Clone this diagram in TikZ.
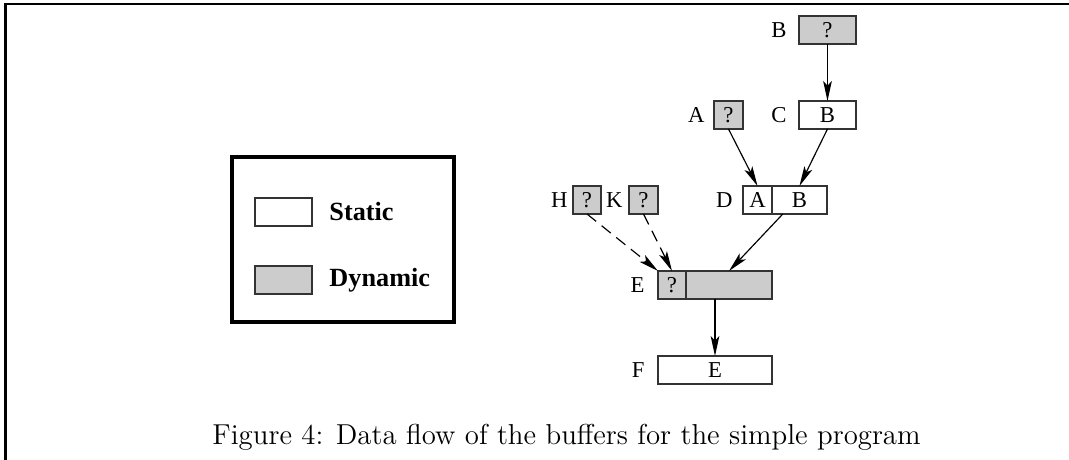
\documentclass[tikz,border=0pt]{standalone}
\usepackage{fontspec}
\newfontfamily\figfont{Liberation Serif}
\usetikzlibrary{arrows.meta}
\usetikzlibrary{calc,positioning}

\begin{document}
\begin{tikzpicture}[x=0.015cm, y=-0.015cm]
    \tikzstyle{buf} = [draw=black!80, line width=0.5pt, outer sep=0pt, inner sep=0pt, minimum height=\bufHeight, font=\figfont\fontsize{9.7}{11}\selectfont]
    \tikzstyle{static buf} = [buf, fill=white]
    \tikzstyle{dynamic buf} = [buf, fill=black!20]
    \tikzstyle{buf name} = [inner sep=0pt, font=\figfont\fontsize{9.7}{11}\selectfont]
    \tikzstyle{line} = [draw, line width=0.5pt, -{Stealth[length=0.3cm, width=0.13cm, inset=0.07cm]}]
    \tikzstyle{dashed line} = [line, dash pattern=on 5pt off 3pt]

    \def\px{0.015cm}
    \def\bufHeight{28*\px}

    \useasboundingbox (0,0) rectangle (1069,460);
    \draw[line width=1.1pt] (1069,4) -- (5.3,4) -- (5.3,460);

    % legend
    \node[draw, line width=1.3pt, minimum width=222*\px, minimum height=165*\px] (legend) at (343,239.5) {};
    \node[static buf, minimum width=57*\px] (keyS) at (283.5,212) {};
    \node[dynamic buf, minimum width=57*\px] (keyD) at (283.5,280) {};
    \node[anchor=west, inner sep=0pt, font=\figfont\bfseries\fontsize{11.2}{13}\selectfont] (Static) at (329,212) {Static};
    \node[anchor=west, inner sep=0pt, font=\figfont\bfseries\fontsize{11.2}{13}\selectfont] (Dynamic) at (329,280) {Dynamic};

    % buffers
    \node[dynamic buf, minimum width=57*\px] (bufB) at (827.5,30) {?};
    \node[dynamic buf, minimum width=29*\px] (bufA) at (728.5,115) {?};
    \node[static buf, minimum width=57*\px] (bufC) at (827.5,115) {B};
    \node[static buf, minimum width=29*\px] (bufDa) at (757.5,200) {A};
    \node[static buf, minimum width=55*\px, anchor=west] (bufDb) at (bufDa.east) {B};
    \node[dynamic buf, minimum width=28*\px] (bufH) at (587,200) {?};
    \node[dynamic buf, minimum width=29*\px] (bufK) at (643.5,200) {?};
    \node[dynamic buf, minimum width=28*\px] (bufEa) at (672,285) {?};
    \node[dynamic buf, minimum width=86*\px, anchor=west] (bufEb) at (bufEa.east) {};
    \node[static buf, minimum width=114*\px] (bufF) at (715,370) {E};

    % names
    \node[buf name, left=12*\px of bufB] (nameB) {B};
    \node[buf name, left=9*\px of bufA] (nameA) {A};
    \node[buf name, left=12*\px of bufC] (nameC) {C};
    \node[buf name, left=10*\px of bufDa] (nameD) {D};
    \node[buf name, left=5*\px of bufH] (nameH) {H};
    \node[buf name, left=6*\px of bufK] (nameK) {K};
    \node[buf name, left=13*\px of bufEa] (nameE) {E};
    \node[buf name, left=13*\px of bufF] (nameF) {F};

    \path [line] (bufB) -- (bufC);
    \path [line] (bufA.south) -- (bufDa.north);
    \path [line] (bufC.south) -- (bufDb.north);
    \path [line] (bufDb.220) -- (bufEb.north);
    \path [dashed line] (bufH.south) -- (bufEa.north west);
    \path [dashed line] (bufK.south) -- (bufEa.north);
    \path [line] (bufF.north |- bufEb.south) -- (bufF.north);

    \node (caption) [%
        anchor=base west,
        inner sep=0pt,
        font=\fontsize{12.3}{15}\selectfont,
    ] at (212,445) {Figure 4: Data flow of the buffers for the simple program};
\end{tikzpicture}
\end{document}
